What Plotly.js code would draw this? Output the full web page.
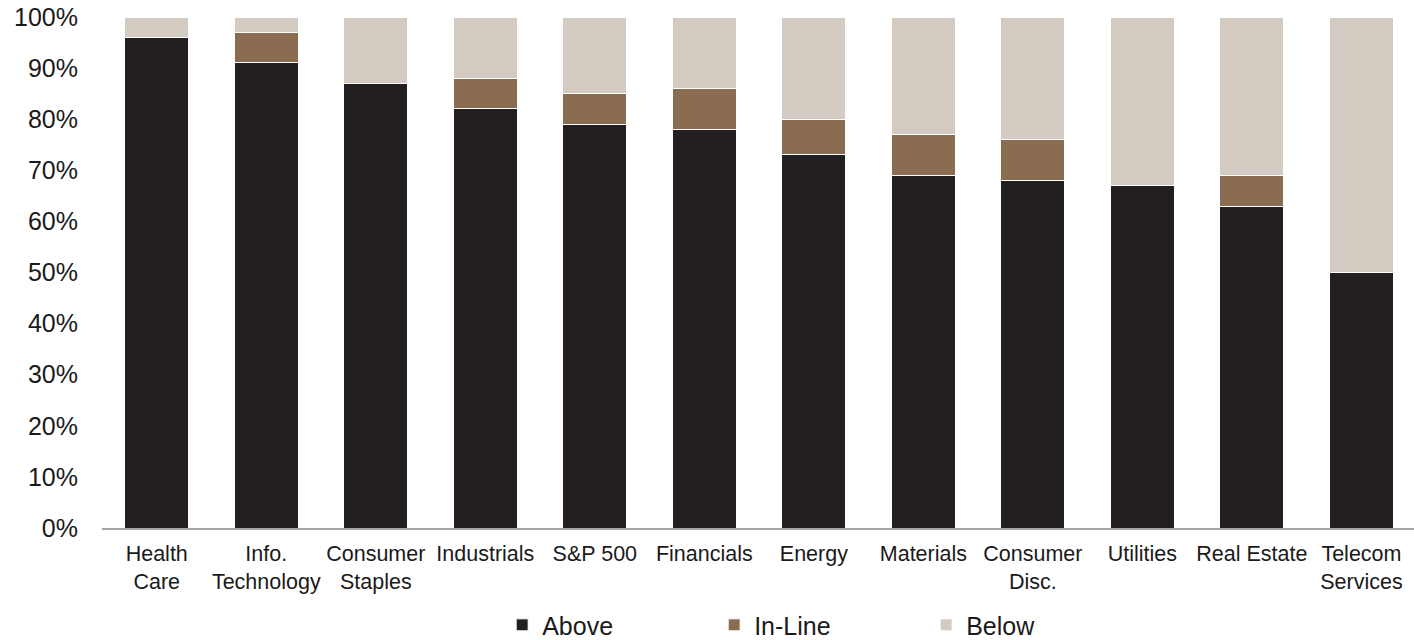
<!DOCTYPE html>
<html>
<head>
<meta charset="utf-8">
<script src="https://cdn.plot.ly/plotly-3.0.1.min.js"></script>
<style>
  html, body { margin: 0; padding: 0; background: #ffffff; }
  #chart { width: 1414px; height: 640px; }
</style>
</head>
<body>
<div id="chart"></div>
<script>
// Sector categories, in display order
const sectors = [
  "Health<br>Care", "Info.<br>Technology", "Consumer<br>Staples", "Industrials",
  "S&P 500", "Financials", "Energy", "Materials", "Consumer<br>Disc.",
  "Utilities", "Real Estate", "Telecom<br>Services"
];

// Share of companies reporting above / in line with / below estimates (%)
const above  = [96, 91, 87, 82, 79, 78, 73, 69, 68, 67, 63, 50];
const inLine = [ 0,  6,  0,  6,  6,  8,  7,  8,  8,  0,  6,  0];
const below  = [ 4,  3, 13, 12, 15, 14, 20, 23, 24, 33, 31, 50];

const yTickVals = [0, 10, 20, 30, 40, 50, 60, 70, 80, 90, 100];
const yTickText = ["0%", "10%", "20%", "30%", "40%", "50%", "60%", "70%", "80%", "90%", "100%"];

const FONT = '"Liberation Sans", Arial, Helvetica, sans-serif';
const outline = { color: "#ffffff", width: 1 };

function series(name, values, color) {
  return {
    type: "bar",
    name: name,
    x: sectors,
    y: values,
    marker: { color: color, line: outline },
    hoverinfo: "x+y+name"
  };
}

const data = [
  series("Above",   above,  "#231f20"),
  series("In-Line", inLine, "#8a6d50"),
  series("Below",   below,  "#d3cbc1")
];

const layout = {
  width: 1414,
  height: 640,
  margin: { l: 102, r: 0, t: 17, b: 112, autoexpand: false },
  paper_bgcolor: "#ffffff",
  plot_bgcolor: "#ffffff",
  barmode: "stack",
  bargap: 0.415,
  font: { family: FONT, color: "#1a1a1a" },
  xaxis: {
    type: "category",
    range: [-0.5, 11.48],
    showgrid: false,
    zeroline: false,
    showline: true,
    linecolor: "#a6a6a6",
    linewidth: 2,
    ticks: "",
    tickfont: { family: FONT, size: 21.5, color: "#1a1a1a" },
    ticklabelstandoff: 5,
    tickangle: 0,
    automargin: false
  },
  yaxis: {
    range: [0, 100],
    tickvals: yTickVals,
    ticktext: yTickText,
    showgrid: false,
    zeroline: false,
    showline: false,
    ticks: "",
    tickfont: { family: FONT, size: 25, color: "#1a1a1a" },
    ticklabelstandoff: 23,
    automargin: false
  },
  showlegend: true,
  legend: {
    orientation: "h",
    traceorder: "normal",
    x: 0.305,
    xanchor: "left",
    y: -0.19,
    yanchor: "middle",
    entrywidth: 167,
    entrywidthmode: "pixels",
    font: { family: FONT, size: 25, color: "#1a1a1a" },
    bgcolor: "rgba(0,0,0,0)"
  }
};

Plotly.newPlot("chart", data, layout, { displayModeBar: false, staticPlot: true });
</script>
</body>
</html>
